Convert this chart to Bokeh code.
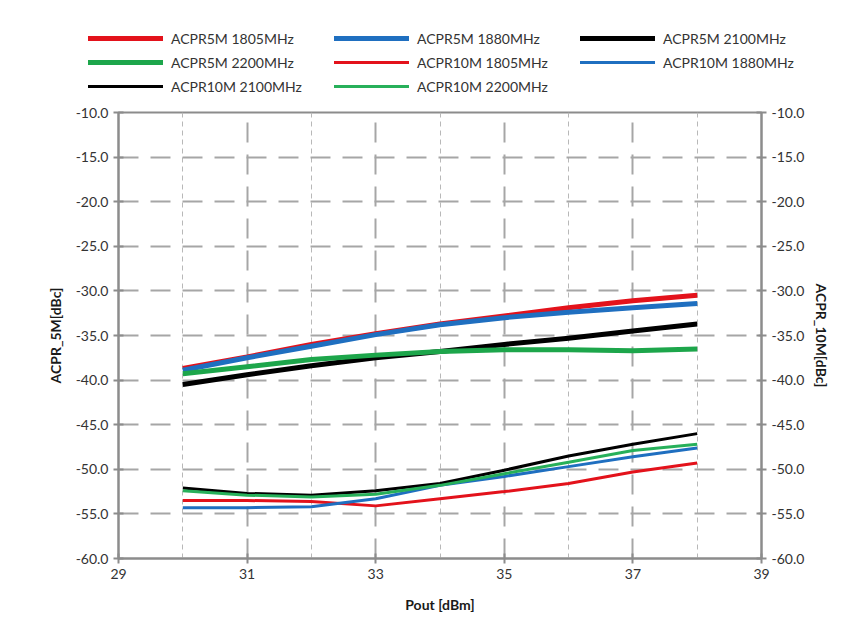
from bokeh.plotting import figure
from bokeh.layouts import column, row
from bokeh.models import (Range1d, LinearAxis, FixedTicker, PrintfTickFormatter,
                          Legend, LegendItem)
from bokeh.embed import file_html
from bokeh.resources import INLINE

# ---- data ----
pout = [30, 31, 32, 33, 34, 35, 36, 37, 38]

acpr5m_1805 = [-38.7, -37.4, -36.0, -34.8, -33.7, -32.8, -31.9, -31.1, -30.5]
acpr5m_1880 = [-38.9, -37.5, -36.2, -34.9, -33.8, -33.0, -32.4, -31.9, -31.4]
acpr5m_2100 = [-40.5, -39.4, -38.4, -37.5, -36.8, -36.0, -35.3, -34.5, -33.7]
acpr5m_2200 = [-39.3, -38.5, -37.7, -37.2, -36.8, -36.6, -36.6, -36.7, -36.5]

acpr10m_1805 = [-53.5, -53.5, -53.6, -54.1, -53.3, -52.5, -51.6, -50.3, -49.3]
acpr10m_1880 = [-54.3, -54.3, -54.2, -53.3, -51.8, -50.8, -49.7, -48.6, -47.6]
acpr10m_2100 = [-52.1, -52.7, -52.9, -52.4, -51.6, -50.1, -48.5, -47.2, -46.0]
acpr10m_2200 = [-52.4, -52.9, -53.1, -52.8, -51.8, -50.5, -49.2, -47.9, -47.2]

x_ticks = [29, 31, 33, 35, 37, 39]
x_minor = [30, 32, 34, 36, 38]
y_ticks = [-60, -55, -50, -45, -40, -35, -30, -25, -20, -15, -10]

FONT = "Lato"
AX = "#8c8c8c"
GRID = "#a6a6a6"
TXT = "#333333"

series = [
    ("ACPR5M 1805MHz", acpr5m_1805, "#e3121b", 5, "default"),
    ("ACPR5M 1880MHz", acpr5m_1880, "#1f6fc0", 5, "default"),
    ("ACPR5M 2100MHz", acpr5m_2100, "#000000", 5, "default"),
    ("ACPR5M 2200MHz", acpr5m_2200, "#1da64b", 5, "default"),
    ("ACPR10M 1805MHz", acpr10m_1805, "#e3121b", 3, "r"),
    ("ACPR10M 1880MHz", acpr10m_1880, "#1f6fc0", 3, "r"),
    ("ACPR10M 2100MHz", acpr10m_2100, "#000000", 3, "r"),
    ("ACPR10M 2200MHz", acpr10m_2200, "#27b05a", 3, "r"),
]
# legend reads row by row (3 per row); bokeh fills columns first
legend_order = [0, 3, 6, 1, 4, 7, 2, 5]

# ---- main chart ----
p = figure(width=849, height=525, output_backend="svg", toolbar_location=None,
           x_range=Range1d(29, 39), y_range=Range1d(-60, -10),
           min_border_left=118, min_border_right=88, min_border_top=12,
           min_border_bottom=67, background_fill_color="white",
           border_fill_color="white")
p.extra_y_ranges = {"r": Range1d(-60, -10)}
p.outline_line_color = AX
p.outline_line_width = 2

for name, ys, col, w, rng in series:
    p.line(pout, ys, line_color=col, line_width=w, y_range_name=rng)

p.xaxis.ticker = FixedTicker(ticks=x_ticks, minor_ticks=x_minor)
p.yaxis.ticker = FixedTicker(ticks=y_ticks)
p.yaxis.formatter = PrintfTickFormatter(format="%.1f")

raxis = LinearAxis(y_range_name="r", ticker=FixedTicker(ticks=y_ticks),
                   formatter=PrintfTickFormatter(format="%.1f"),
                   axis_label="ACPR_10M[dBc]")
p.add_layout(raxis, "right")

p.xaxis.axis_label = "Pout [dBm]"
p.yaxis[0].axis_label = "ACPR_5M[dBc]"

for ax in [p.xaxis[0], p.yaxis[0], raxis]:
    ax.axis_line_color = AX
    ax.axis_line_width = 2
    ax.major_tick_line_color = AX
    ax.major_tick_line_width = 2
    ax.major_tick_in = 5
    ax.major_tick_out = 5
    ax.minor_tick_line_color = None
    ax.major_label_text_font = FONT
    ax.major_label_text_font_size = "14px"
    ax.major_label_text_color = TXT
    ax.axis_label_text_font = FONT
    ax.axis_label_text_font_size = "14px"
    ax.axis_label_text_font_style = "bold"
    ax.axis_label_text_color = "#1a1a1a"

p.yaxis[0].major_label_standoff = 5
p.yaxis[0].axis_label_standoff = 9
raxis.major_label_standoff = 5
raxis.axis_label_standoff = 6
p.xaxis.major_label_standoff = 5
p.xaxis.axis_label_standoff = 14

p.xgrid.grid_line_color = GRID
p.xgrid.grid_line_width = 2
p.xgrid.grid_line_dash = "20 12"
p.xgrid.minor_grid_line_color = "#b8b8b8"
p.xgrid.minor_grid_line_width = 1
p.xgrid.minor_grid_line_dash = "5 4"
p.ygrid.grid_line_color = GRID
p.ygrid.grid_line_width = 2
p.ygrid.grid_line_dash = "20 12"

# ---- legend strip ----
lg = figure(width=849, height=100, output_backend="svg", toolbar_location=None,
            x_range=Range1d(0, 1), y_range=Range1d(0, 1), min_border=0,
            min_border_left=0, min_border_right=0, min_border_top=0,
            min_border_bottom=0,
            x_axis_type=None, y_axis_type=None, outline_line_color=None,
            background_fill_color="white", border_fill_color="white")
lg.grid.visible = False

items = []
for i in legend_order:
    name, ys, col, w, rng = series[i]
    r = lg.line([float("nan")], [float("nan")], line_color=col, line_width=w,
                line_cap="round")
    items.append(LegendItem(label=name, renderers=[r]))

legend = Legend(items=items, ncols=3, location=(88, 4),
                glyph_width=75, glyph_height=20, label_standoff=8,
                label_width=159, spacing=4, padding=0, margin=0,
                border_line_color=None, background_fill_alpha=0,
                label_text_font=FONT, label_text_font_size="14px",
                label_text_color=TXT)
lg.add_layout(legend, "center")

layout = column(row(lg), p, spacing=0)
open("out.html", "w").write(file_html(layout, INLINE))
